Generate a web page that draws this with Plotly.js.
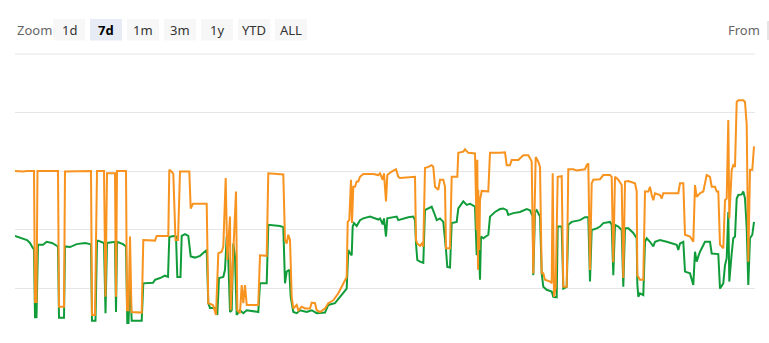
<!DOCTYPE html>
<html>
<head>
<meta charset="utf-8">
<script src="https://cdn.plot.ly/plotly-3.0.1.min.js"></script>
<style>
html,body{margin:0;padding:0;background:#fff;}
#chart{width:769px;height:343px;}
</style>
</head>
<body>
<div id="chart"></div>
<script>
// ---- data (sample index along the 7-day window, value) ----
const orangeT = [
  0,8,12,19,20,21.5,22.5,43,44,49,
  50,76,77,80,82,89,90.5,92,100,101,
  102,111,112,113.5,115,116.5,126.7,128.3,140,141.7,
  153.3,154.3,156.5,158.3,160.5,163,165,174.3,175.7,178,
  191.7,193.3,198,201,203.3,206.7,208.3,210.7,212.3,215,
  215.7,218.3,221,222.3,225,226.7,228.3,230,231.7,243.3,
  245,251.7,253.3,268.3,270,271.7,273.3,275,276.7,278.3,
  281.7,283.3,286.7,290,295,296.7,300,301.7,305,310,
  313.3,318.3,323.3,326.7,330,331.7,332.7,334.3,336,337,
  338.3,340,341.7,343.3,345,348.3,358.3,363.3,365,367.7,
  369,371,372.3,376.7,381,383.3,385,398.3,400,401,
  402.3,405,406.7,408.3,410,413.3,416.7,418.3,420,423.3,
  425,428.3,430,431,435,436.7,442.3,443.3,448.3,450,
  453.3,460,461.7,462.3,463,463.3,464.3,465,466.7,473.3,
  475,485,490,491.7,495,496.7,503.3,508.3,513.3,515,
  516.7,518.3,520.7,523.3,525,526.7,528.3,530,535,536.7,
  537.7,539,540.7,542.7,546.7,548.3,551.7,553.3,558.3,561.7,
  570,571.7,573.3,575,576.7,578.3,585,588.3,595,596.7,
  598.3,600,603.3,606.7,608.3,610,613.3,620,621.7,622.3,
  625,628.3,630,633.3,635,636.7,638.3,640,645,646.7,
  648.3,663.3,665,668.3,670,675,678.3,680,681.7,685,
  688.3,691.7,695,696.7,700,701.7,703.3,705,708.3,710,
  711.7,713.3,714.3,716.7,718.3,720,721.7,723.3,728.3,730,
  731.7,733.3,735,737.3,739
];
const orangeV = [
  30.0,29.9,30.0,30.0,7.6,7.6,30.0,30.0,6.8,6.8,
  29.9,30.0,5.4,5.4,30.0,30.0,8.5,29.6,29.6,8.5,
  30.0,30.0,6.2,6.2,18.8,5.9,5.8,18.2,18.1,18.9,
  18.9,30.2,29.9,29.5,18.2,18.2,29.9,29.9,23.6,24.4,
  24.4,7.4,7.1,5.4,15.9,16.2,17.1,28.8,14.8,22.2,
  6.2,15.4,26.5,6.2,5.7,10.5,7.4,10.5,7.1,7.1,
  15.6,15.5,29.6,29.4,18.2,17.6,19.1,18.2,8.5,6.5,
  7.1,6.2,6.8,6.5,6.5,7.5,7.4,6.2,5.9,6.5,
  7.4,7.9,9.1,10.2,11.4,11.9,21.3,21.6,28.5,21.1,
  27.3,27.3,28.2,28.2,29.0,29.5,29.5,29.3,29.6,28.5,
  29.6,24.8,29.3,29.9,30.3,29.0,28.8,28.9,29.0,18.2,
  17.6,17.2,17.6,17.1,30.5,30.7,31.0,30.7,27.3,26.8,
  28.5,28.5,27.3,16.8,16.8,29.0,29.0,33.1,33.3,33.7,
  33.1,33.0,19.9,31.9,13.1,26.8,16.5,25.0,26.6,26.5,
  33.1,33.1,33.2,31.0,31.0,31.9,31.9,32.7,32.7,32.2,
  31.6,12.5,32.4,31.6,30.7,12.5,12.5,11.4,11.1,10.8,
  29.6,8.5,10.2,29.0,29.1,10.2,10.2,30.3,30.3,30.1,
  30.3,31.0,31.3,13.1,27.9,28.5,28.6,29.3,29.3,29.0,
  14.4,29.0,28.5,27.6,11.7,28.2,28.3,27.9,26.5,12.2,
  11.4,11.4,26.5,26.5,27.3,25.9,25.0,26.2,25.9,25.3,
  26.2,26.2,27.9,27.9,19.1,18.8,17.9,27.6,25.6,26.2,
  26.5,29.3,29.0,27.3,27.3,26.5,26.5,17.4,16.8,25.0,
  25.3,38.7,21.9,30.2,31.0,30.7,41.8,42.1,42.1,41.8,
  37.9,14.5,30.2,30.2,34.2
];
const greenT = [
  0,7,12,15,18,19,20,21.5,23,28,
  31.7,37,41.7,43,44,49,50,55,61.7,70,
  75,76,77,80.5,82,83,89,90.5,92,98,
  100,101,102,108,111,112.3,113.5,115,116.7,126.7,
  128.3,138,140,145,150,153,154.3,158.3,161,162.3,
  165.5,166.7,170,173.3,175.7,180,185,191.7,193.3,195,
  200,202.3,204,208.3,210,211.7,213.3,215,216.7,218.3,
  220,221.7,225,228.3,231.7,243.3,245,251.7,253.3,265,
  268.3,270,271.7,274.3,275.7,278.3,281.7,285,291.7,296.7,
  301.7,310,313.3,320,325,330,331.7,333.3,335,336.7,
  337.7,339,341.7,345,348.3,355,363.3,365,367.7,369,
  371,372.3,381.7,383.3,393.3,398.3,400,401,402.3,405,
  408.3,410,413.3,416.7,419,421.7,425,428.3,431,432.3,
  435,436.7,441.7,443.3,448.3,451.7,455,460,461.7,463.3,
  465,466,468.3,473.3,475,480,485,488.3,491.7,493.3,
  498.3,505,511.7,515,517.7,518.3,520,521.7,525,526.7,
  528.3,531.7,536.7,538.3,541.7,542.7,546.7,548.3,551.7,553.3,
  556.7,565,570,573.3,575,576.7,581.7,585,588.3,595,
  596.7,598.3,600,603.3,606.7,608.3,610,613.3,618.3,621.7,
  622.3,623.3,625,628.3,630,631.7,635,638.3,640,645,
  651.7,661.7,663.3,665,668.3,670,675,678.3,680,681.7,
  683.3,685,690,695,696.7,701.7,703.3,705,708.3,710,
  711.7,713.3,714.3,716.7,718.3,720,721.7,723.3,726.7,728.3,
  730,731.7,733.3,735,737.3,739
];
const greenV = [
  18.9,18.5,18.2,17.7,16.8,16.8,5.0,5.0,17.4,17.4,
  17.9,17.7,17.2,17.1,4.9,4.9,17.1,17.0,17.5,17.7,
  17.5,17.4,4.4,4.4,17.9,18.1,17.7,5.7,17.7,17.9,
  17.9,5.9,17.9,17.5,17.1,4.0,4.0,11.4,4.4,4.4,
  10.8,10.9,11.4,11.7,12.1,11.9,18.7,18.9,18.8,11.9,
  11.9,18.9,19.2,18.9,15.4,15.2,15.5,16.5,7.4,6.6,
  6.6,5.4,11.7,11.9,13.1,18.8,14.8,5.9,6.2,17.6,
  15.4,5.4,6.2,5.7,6.2,5.9,10.8,10.8,20.8,20.6,
  20.4,10.8,12.8,13.1,8.5,5.9,5.7,6.2,5.9,6.2,
  5.7,5.8,7.1,7.4,8.5,9.4,9.9,16.5,15.9,15.6,
  20.5,21.1,20.6,21.6,21.9,22.2,21.7,21.9,20.9,21.9,
  18.8,21.9,22.2,21.6,22.1,22.2,21.6,17.6,14.8,14.5,
  14.3,23.3,23.6,23.9,22.9,21.6,21.9,21.3,16.5,13.6,
  13.5,21.1,21.3,23.6,24.8,24.2,24.4,23.9,15.6,19.9,
  11.4,18.8,18.5,19.1,22.2,23.0,23.5,23.6,23.3,22.5,
  22.8,23.0,23.5,23.3,22.2,12.2,23.0,23.3,22.2,12.5,
  10.2,9.7,9.4,8.5,8.4,20.5,20.5,9.9,10.2,20.8,
  21.3,21.6,22.1,22.1,11.1,19.9,20.2,20.5,21.1,21.3,
  20.8,12.2,20.8,20.5,19.9,10.2,20.2,20.2,19.4,18.5,
  10.8,8.5,9.1,8.8,17.9,18.5,17.9,17.1,17.9,18.2,
  17.9,17.4,16.5,17.6,17.9,12.8,12.5,10.5,16.2,14.5,
  15.4,16.2,17.9,17.9,15.9,15.9,15.8,9.9,10.8,13.9,
  15.1,23.0,11.1,15.9,18.5,18.8,25.3,25.9,26.0,26.5,
  25.3,20.3,10.5,18.5,19.1,21.3
];
const gridValues = [10, 20, 30, 40, 50];
const zoomButtons = ['1d', '7d', '1m', '3m', '1y', 'YTD', 'ALL'];
const selectedButton = '7d';

// ---- layout helpers (pixel -> paper) ----
const W = 769, H = 343;
const M = {l: 15, r: 14, t: 54, b: 18};
const PW = W - M.l - M.r, PH = H - M.t - M.b;
const px = X => (X - M.l) / PW;
const py = Y => (H - M.b - Y) / PH;

const shapes = [];
const annotations = [];
const FONT = '"Noto Sans", "Open Sans", sans-serif';

// top gridline (edge)
shapes.push({type: 'line', xref: 'paper', yref: 'paper', x0: 0, x1: 1, y0: 1, y1: 1,
  line: {color: '#e6e6e6', width: 1}, layer: 'below'});

annotations.push({xref: 'paper', yref: 'paper', x: px(15), y: py(30), xanchor: 'left', yanchor: 'middle',
  text: 'Zoom', showarrow: false, font: {family: FONT, size: 13, color: '#666666'}});

zoomButtons.forEach((b, i) => {
  const x0 = 53 + i * 37, x1 = x0 + 32;
  const sel = b === selectedButton;
  shapes.push({type: 'rect', xref: 'paper', yref: 'paper', x0: px(x0), x1: px(x1), y0: py(40.5), y1: py(19),
    fillcolor: sel ? '#e6ebf5' : '#f7f7f7', line: {width: 0}, layer: 'above'});
  annotations.push({xref: 'paper', yref: 'paper', x: px((x0 + x1) / 2), y: py(30), xanchor: 'center', yanchor: 'middle',
    text: sel ? '<b>' + b + '</b>' : b, showarrow: false,
    font: {family: FONT, size: 13, color: sel ? '#000000' : '#333333'}});
});

annotations.push({xref: 'paper', yref: 'paper', x: px(762), y: py(30), xanchor: 'right', yanchor: 'middle',
  text: 'From', showarrow: false, font: {family: FONT, size: 13, color: '#666666'}});
shapes.push({type: 'line', xref: 'paper', yref: 'paper', x0: px(768), x1: px(768), y0: py(40), y1: py(21),
  line: {color: '#cccccc', width: 1}});

const traces = [
  {x: greenT, y: greenV, type: 'scatter', mode: 'lines', line: {color: '#119c3a', width: 2}, hoverinfo: 'skip'},
  {x: orangeT, y: orangeV, type: 'scatter', mode: 'lines', line: {color: '#f7931e', width: 2}, hoverinfo: 'skip'}
];

const layout = {
  width: W, height: H,
  margin: M,
  paper_bgcolor: '#ffffff', plot_bgcolor: '#ffffff',
  showlegend: false,
  xaxis: {range: [0, 740], showgrid: false, zeroline: false, showticklabels: false, ticks: '', showline: false},
  yaxis: {range: [3.675, 50], tickvals: gridValues, showgrid: true, gridcolor: '#e6e6e6', gridwidth: 1,
    zeroline: false, showticklabels: false, ticks: '', showline: false},
  shapes: shapes,
  annotations: annotations
};

Plotly.newPlot('chart', traces, layout, {staticPlot: true, displayModeBar: false});
</script>
</body>
</html>
